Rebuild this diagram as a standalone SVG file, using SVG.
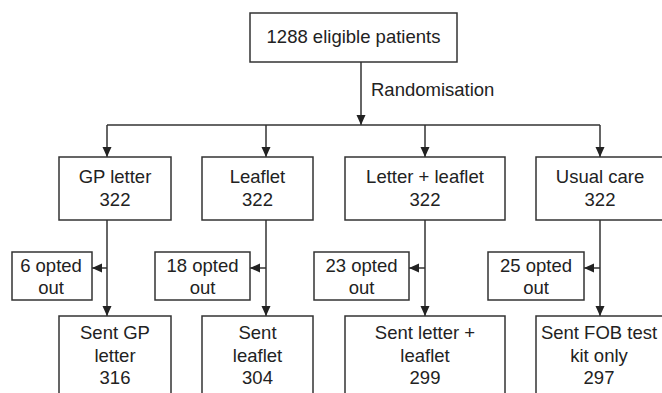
<svg xmlns="http://www.w3.org/2000/svg" width="662" height="393" viewBox="0 0 662 393">
  <style>
    .box { fill: #ffffff; stroke: #333333; stroke-width: 1.5; }
    .lbl { font-family: "Liberation Sans", Arial, sans-serif; font-size: 18.5px; fill: #222222; text-anchor: middle; }
    .note { text-anchor: start; }
    .wire { fill: none; stroke: #333333; stroke-width: 1.5; }
    .arrow { marker-end: url(#head); }
  </style>
  <defs>
    <marker id="head" markerUnits="userSpaceOnUse" markerWidth="10" markerHeight="10" viewBox="0 0 10 10" refX="10" refY="5" orient="auto">
      <path d="M0,0.5 L10,5 L0,9.5 Z" fill="#222222"/>
    </marker>
  </defs>
  <rect width="662" height="393" fill="#ffffff"/>

  <g id="connectors">
    <!-- randomisation trunk and distribution bar -->
    <line class="wire arrow" x1="361" y1="62" x2="361" y2="125"/>
    <line class="wire" x1="107" y1="125" x2="600" y2="125"/>
    <line class="wire arrow" x1="107" y1="125" x2="107" y2="157"/>
    <line class="wire arrow" x1="266" y1="125" x2="266" y2="157"/>
    <line class="wire arrow" x1="425" y1="125" x2="425" y2="157"/>
    <line class="wire arrow" x1="600" y1="125" x2="600" y2="157"/>
    <!-- arm stems down to final boxes -->
    <line class="wire arrow" x1="107" y1="220" x2="107" y2="316"/>
    <line class="wire arrow" x1="266" y1="220" x2="266" y2="316"/>
    <line class="wire arrow" x1="425" y1="220" x2="425" y2="316"/>
    <line class="wire arrow" x1="600" y1="220" x2="600" y2="316"/>
    <!-- opt-out branches -->
    <line class="wire arrow" x1="107" y1="268" x2="92" y2="268"/>
    <line class="wire arrow" x1="266" y1="268" x2="250" y2="268"/>
    <line class="wire arrow" x1="425" y1="268" x2="409" y2="268"/>
    <line class="wire arrow" x1="600" y1="268" x2="584" y2="268"/>
  </g>

  <text class="lbl note" x="371" y="96">Randomisation</text>

  <g id="eligible">
    <rect class="box" x="250" y="13" width="207" height="49"/>
    <text class="lbl" x="353.5" y="43">1288 eligible patients</text>
  </g>

  <g id="arm-gp-letter">
    <rect class="box" x="59" y="157" width="112" height="63"/>
    <text class="lbl" x="115" y="183">GP letter</text>
    <text class="lbl" x="115" y="206">322</text>
  </g>
  <g id="arm-leaflet">
    <rect class="box" x="202" y="157" width="111" height="63"/>
    <text class="lbl" x="257.5" y="183">Leaflet</text>
    <text class="lbl" x="257.5" y="206">322</text>
  </g>
  <g id="arm-letter-leaflet">
    <rect class="box" x="345" y="157" width="160" height="63"/>
    <text class="lbl" x="425" y="183">Letter + leaflet</text>
    <text class="lbl" x="425" y="206">322</text>
  </g>
  <g id="arm-usual-care">
    <rect class="box" x="536" y="157" width="128" height="63"/>
    <text class="lbl" x="600" y="183">Usual care</text>
    <text class="lbl" x="600" y="206">322</text>
  </g>

  <g id="optout-gp-letter">
    <rect class="box" x="12" y="252" width="80" height="48"/>
    <text class="lbl" x="51" y="272">6 opted</text>
    <text class="lbl" x="51" y="294">out</text>
  </g>
  <g id="optout-leaflet">
    <rect class="box" x="155" y="252" width="95" height="48"/>
    <text class="lbl" x="202.5" y="272">18 opted</text>
    <text class="lbl" x="202.5" y="294">out</text>
  </g>
  <g id="optout-letter-leaflet">
    <rect class="box" x="314" y="252" width="95" height="48"/>
    <text class="lbl" x="361.5" y="272">23 opted</text>
    <text class="lbl" x="361.5" y="294">out</text>
  </g>
  <g id="optout-usual-care">
    <rect class="box" x="488" y="252" width="96" height="48"/>
    <text class="lbl" x="536" y="272">25 opted</text>
    <text class="lbl" x="536" y="294">out</text>
  </g>

  <g id="sent-gp-letter">
    <rect class="box" x="59" y="316" width="112" height="90"/>
    <text class="lbl" x="115" y="339">Sent GP</text>
    <text class="lbl" x="115" y="362">letter</text>
    <text class="lbl" x="115" y="384">316</text>
  </g>
  <g id="sent-leaflet">
    <rect class="box" x="202" y="316" width="111" height="90"/>
    <text class="lbl" x="257.5" y="339">Sent</text>
    <text class="lbl" x="257.5" y="362">leaflet</text>
    <text class="lbl" x="257.5" y="384">304</text>
  </g>
  <g id="sent-letter-leaflet">
    <rect class="box" x="345" y="316" width="160" height="90"/>
    <text class="lbl" x="425" y="339">Sent letter +</text>
    <text class="lbl" x="425" y="362">leaflet</text>
    <text class="lbl" x="425" y="384">299</text>
  </g>
  <g id="sent-fob-kit">
    <rect class="box" x="536" y="316" width="128" height="90"/>
    <text class="lbl" x="599" y="339">Sent FOB test</text>
    <text class="lbl" x="599" y="362">kit only</text>
    <text class="lbl" x="599" y="384">297</text>
  </g>
</svg>
